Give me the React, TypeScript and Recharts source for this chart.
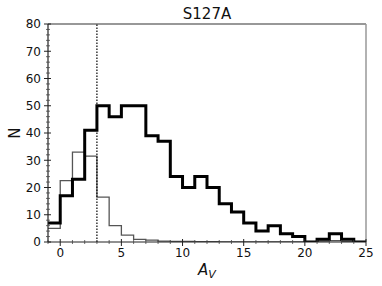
import React from 'react';
import { ComposedChart, Line, XAxis, YAxis, ReferenceLine } from 'recharts';

// Histogram bins (left edges), width 1, last right edge 25
const binLeftEdges = [-1, 0, 1, 2, 3, 4, 5, 6, 7, 8, 9, 10, 11, 12, 13, 14, 15, 16, 17, 18, 19, 20, 21, 22, 23, 24];
const rightEdge = 25;
// Thick histogram (all sources)
const allCounts = [7, 17, 23, 41, 50, 46, 50, 50, 39, 37, 24, 20, 24, 20, 14, 11, 7, 4, 6, 3, 2, 0, 1, 3, 1, 0];
// Thin histogram
const thinCounts = [5, 22.5, 33, 31.5, 16.5, 6, 2.5, 1, 0.7, 0.3, 0.2, 0.2, 0.1, 0.1, 0, 0, 0, 0, 0, 0, 0, 0, 0.3, 0.5, 0.2, 0];

const xMajorTicks = [0, 5, 10, 15, 20, 25];
const xAllTicks = [-1, 0, 1, 2, 3, 4, 5, 6, 7, 8, 9, 10, 11, 12, 13, 14, 15, 16, 17, 18, 19, 20, 21, 22, 23, 24, 25];
const yMajorTicks = [0, 10, 20, 30, 40, 50, 60, 70, 80];
const yAllTicks = [0, 2, 4, 6, 8, 10, 12, 14, 16, 18, 20, 22, 24, 26, 28, 30, 32, 34, 36, 38, 40, 42, 44, 46, 48, 50, 52, 54, 56, 58, 60, 62, 64, 66, 68, 70, 72, 74, 76, 78, 80];
const thresholdAv = 3;
const title = 'S127A';

const rows = binLeftEdges.map((x, i) => ({ x, all: allCounts[i], thin: thinCounts[i] }));
rows.push({ x: rightEdge, all: allCounts[allCounts.length - 1], thin: thinCounts[thinCounts.length - 1] });

const FONT = '"DejaVu Sans", sans-serif';

function YTick(props: any) {
  const { x, y, payload } = props;
  const v = payload.value;
  const major = yMajorTicks.includes(v);
  return (
    <g>
      {major ? (
        <line x1={x - 4} x2={x + 3} y1={y} y2={y} stroke="#222" strokeWidth={1} />
      ) : (
        <line x1={x - 2} x2={x + 2} y1={y} y2={y} stroke="#444" strokeWidth={0.8} />
      )}
      {major && (
        <text x={x - 7} y={y} dy="0.36em" textAnchor="end" fontSize={12} fontFamily={FONT} fill="#111">
          {v}
        </text>
      )}
    </g>
  );
}

function XTick(props: any) {
  const { x, y, payload } = props;
  const v = payload.value;
  const major = xMajorTicks.includes(v);
  return (
    <g>
      {major ? (
        <line x1={x} x2={x} y1={y - 3} y2={y + 4} stroke="#222" strokeWidth={1} />
      ) : (
        <line x1={x} x2={x} y1={y - 2} y2={y + 2} stroke="#444" strokeWidth={0.8} />
      )}
      {major && (
        <text x={x} y={y + 15} textAnchor="middle" fontSize={12} fontFamily={FONT} fill="#111">
          {v}
        </text>
      )}
    </g>
  );
}

export default function App() {
  return (
    <div style={{ position: 'absolute', left: 0, top: 0 }}>
      <ComposedChart width={382} height={286} data={rows} margin={{ top: 24, right: 16, bottom: 0, left: 0 }}>
        <XAxis
          dataKey="x"
          type="number"
          domain={[-1, 25]}
          ticks={xAllTicks}
          interval={0}
          allowDataOverflow
          height={44}
          tickSize={0}
          tickMargin={0}
          tickLine={false}
          tick={<XTick />}
          axisLine={{ stroke: '#222', strokeWidth: 1.2 }}
          label={{
            content: (p: any) => {
              const vb = p.viewBox;
              return (
                <text x={vb.x + vb.width / 2} y={vb.y + 33} textAnchor="middle" fontFamily={FONT} fill="#111">
                  <tspan fontStyle="italic" fontSize={15}>A</tspan>
                  <tspan fontStyle="italic" fontSize={11} dy={3}>V</tspan>
                </text>
              );
            },
          }}
        />
        <YAxis
          type="number"
          domain={[0, 80]}
          ticks={yAllTicks}
          interval={0}
          allowDataOverflow
          width={48}
          tickSize={0}
          tickMargin={0}
          tickLine={false}
          tick={<YTick />}
          axisLine={{ stroke: '#222', strokeWidth: 1.2 }}
          label={{
            content: (p: any) => {
              const vb = p.viewBox;
              const cx = 15;
              const cy = vb.y + vb.height / 2;
              return (
                <text x={cx} y={cy} textAnchor="middle" dominantBaseline="central" transform={`rotate(-90 ${cx} ${cy})`} fontFamily={FONT} fontSize={15} fill="#111">
                  N
                </text>
              );
            },
          }}
        />
        <ReferenceLine
          y={80}
          stroke="#333"
          strokeWidth={1.2}
          label={{ value: title, position: 'top', offset: 5, fontSize: 15, fontFamily: FONT, fill: '#111' }}
        />
        <ReferenceLine x={25} stroke="#999" strokeWidth={1.5} />
        <Line
          dataKey="thin"
          type="stepAfter"
          stroke="#555"
          strokeWidth={1.3}
          dot={false}
          activeDot={false}
          isAnimationActive={false}
        />
        <Line
          dataKey="all"
          type="stepAfter"
          stroke="#000"
          strokeWidth={3}
          dot={false}
          activeDot={false}
          isAnimationActive={false}
        />
        <ReferenceLine x={thresholdAv} stroke="#000" strokeWidth={1.2} strokeDasharray="1.5 1.5" />
      </ComposedChart>
    </div>
  );
}
